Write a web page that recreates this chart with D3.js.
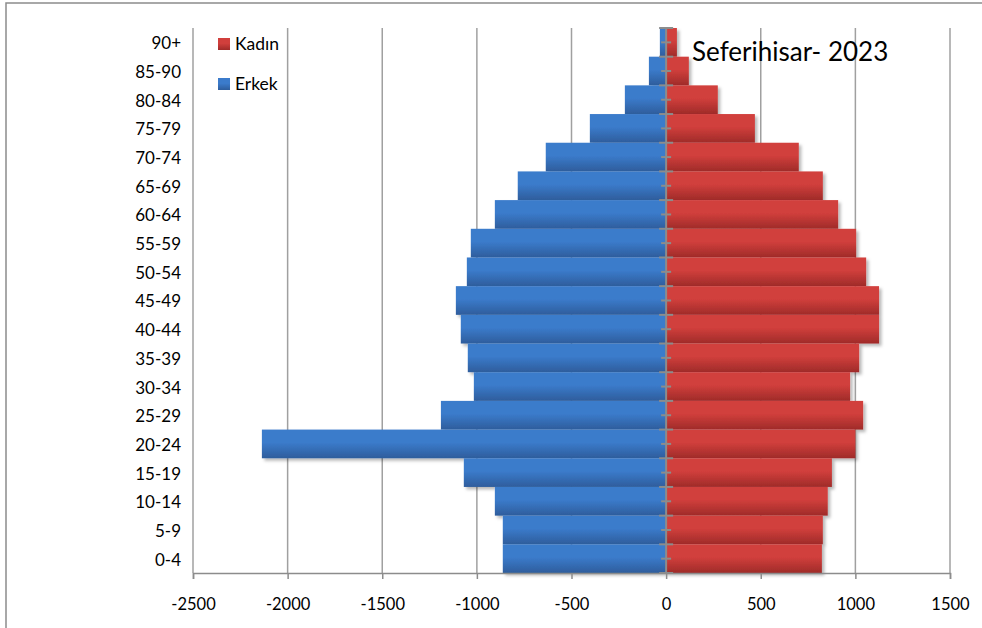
<!DOCTYPE html>
<meta charset="utf-8">
<script src="https://d3js.org/d3.v7.min.js"></script>
<style>
  body { margin: 0; background: #fff; }
  svg text { font-family: Lato, "Open Sans", sans-serif; fill: #000; }
</style>
<svg id="chart" width="982" height="628"></svg>
<script>
// age groups, top to bottom
var ageGroups = ["90+", "85-90", "80-84", "75-79", "70-74", "65-69", "60-64", "55-59", "50-54",
  "45-49", "40-44", "35-39", "30-34", "25-29", "20-24", "15-19", "10-14", "5-9", "0-4"];
// Erkek (men) drawn to the left, as negatives
var erkek = [-33, -91, -218, -403, -636, -784, -905, -1032, -1053,
  -1111, -1085, -1048, -1016, -1190, -2136, -1069, -905, -863, -863];
// Kadın (women)
var kadin = [57, 120, 273, 469, 701, 828, 909, 1004, 1057,
  1125, 1125, 1020, 972, 1041, 1000, 876, 854, 828, 823];
var xTicks = [-2500, -2000, -1500, -1000, -500, 0, 500, 1000, 1500];
var title = "Seferihisar- 2023";

var svg = d3.select("#chart");
var x = d3.scaleLinear().domain([-2500, 1500]).range([193, 950]);
var y = d3.scaleBand().domain(ageGroups).range([28, 573]).padding(0);

// outer border of the chart area
svg.append("rect")
  .attr("x", 6).attr("y", 3).attr("width", 1000).attr("height", 700)
  .attr("fill", "none").attr("stroke", "#8c8c8c").attr("stroke-width", 1.5);

var defs = svg.append("defs");
function grad(id, top, bottom) {
  var g = defs.append("linearGradient").attr("id", id)
    .attr("x1", 0).attr("y1", 0).attr("x2", 0).attr("y2", 1);
  g.append("stop").attr("offset", "0%").attr("stop-color", top);
  g.append("stop").attr("offset", "45%").attr("stop-color", top);
  g.append("stop").attr("offset", "100%").attr("stop-color", bottom);
}
grad("redGrad", "#d13f3c", "#9f2b29");
grad("blueGrad", "#3b7bcb", "#2e5d9c");
defs.append("filter").attr("id", "shadow")
  .attr("x", "-5%").attr("y", "-20%").attr("width", "115%").attr("height", "160%")
  .append("feDropShadow").attr("dx", 2.5).attr("dy", 2.5).attr("stdDeviation", 1.8)
  .attr("flood-color", "#000").attr("flood-opacity", 0.28);

// vertical gridlines
svg.append("g").selectAll("line").data(xTicks.filter(d => d !== 0)).join("line")
  .attr("x1", d => x(d)).attr("x2", d => x(d))
  .attr("y1", 28).attr("y2", 573)
  .attr("stroke", "#a0a0a0").attr("stroke-width", 1.5);

// bars
var bars = svg.append("g").attr("filter", "url(#shadow)");
bars.selectAll("rect.erkek").data(ageGroups).join("rect")
  .attr("class", "erkek")
  .attr("x", (d, i) => x(erkek[i]))
  .attr("y", d => y(d))
  .attr("width", (d, i) => x(0) - x(erkek[i]))
  .attr("height", y.bandwidth())
  .attr("fill", "url(#blueGrad)");
bars.selectAll("rect.kadin").data(ageGroups).join("rect")
  .attr("class", "kadin")
  .attr("x", x(0))
  .attr("y", d => y(d))
  .attr("width", (d, i) => x(kadin[i]) - x(0))
  .attr("height", y.bandwidth())
  .attr("fill", "url(#redGrad)");

// bottom value axis (plain hyphen minus, like the original)
var xAxis = svg.append("g").attr("transform", "translate(0,573)")
  .call(d3.axisBottom(x).tickValues(xTicks).tickSize(6).tickPadding(19).tickFormat(d => String(d)));
xAxis.select(".domain").attr("stroke", "#8c8c8c").attr("stroke-width", 1.5);
xAxis.selectAll(".tick line").attr("stroke", "#8c8c8c").attr("stroke-width", 1.5);
xAxis.selectAll("text").style("font-size", "16.5px").attr("font-family", null)
  .style("font-family", "Lato, sans-serif");

// category axis at zero, with tick marks
var zero = svg.append("g");
zero.append("line").attr("x1", x(0)).attr("x2", x(0)).attr("y1", 28).attr("y2", 573)
  .attr("stroke", "#8c8c8c").attr("stroke-width", 2);
var bounds = ageGroups.map(d => y(d)).concat([y.range()[1]]);
zero.selectAll("line.major").data(bounds).join("line").attr("class", "major")
  .attr("x1", x(0) - 7).attr("x2", x(0) + 7)
  .attr("y1", d => d).attr("y2", d => d)
  .attr("stroke", "#8c8c8c").attr("stroke-width", 2);
zero.selectAll("line.minor").data(ageGroups).join("line").attr("class", "minor")
  .attr("x1", x(0) - 5).attr("x2", x(0) + 5)
  .attr("y1", d => y(d) + y.bandwidth() / 2).attr("y2", d => y(d) + y.bandwidth() / 2)
  .attr("stroke", "#8c8c8c").attr("stroke-width", 2);

// category labels on the left
svg.append("g").selectAll("text").data(ageGroups).join("text")
  .attr("x", 181)
  .attr("y", d => y(d) + y.bandwidth() / 2 + 1)
  .attr("dy", "0.35em")
  .attr("text-anchor", "end")
  .style("font-size", "17px")
  .text(d => d);

// legend
var legendItems = [["Kadın", "url(#redGrad)"], ["Erkek", "url(#blueGrad)"]];
var legend = svg.append("g");
legendItems.forEach(function (item, i) {
  var ly = 44 + i * 40;
  legend.append("rect").attr("x", 218).attr("y", ly - 6).attr("width", 12).attr("height", 12)
    .attr("fill", item[1]);
  legend.append("text").attr("x", 235).attr("y", ly).attr("dy", "0.35em")
    .style("font-size", "17.5px").text(item[0]);
});

// title
svg.append("text").attr("x", 692).attr("y", 61)
  .style("font-size", "26px").text(title);
</script>
